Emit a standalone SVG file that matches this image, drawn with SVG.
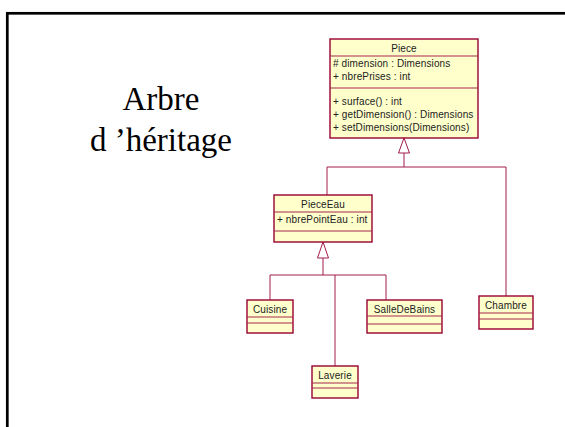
<svg xmlns="http://www.w3.org/2000/svg" width="565" height="427" viewBox="0 0 565 427">
  <style>
    .box { fill: #FFFFCC; stroke: #990033; stroke-width: 1.4; }
    .sep { stroke: #A8284F; stroke-width: 1.2; fill: none; }
    .cls { font-family: "Liberation Sans", Arial, sans-serif; font-size: 10px; fill: #222; letter-spacing: 0.12px; }
    .mid { text-anchor: middle; }
    .edge { stroke: #A01E4E; stroke-width: 1; fill: none; }
    .tri { fill: #FFFFFF; stroke: #A01E4E; stroke-width: 1; }
    .title { font-family: "Liberation Serif", "Times New Roman", serif; font-size: 33px; fill: #000; text-anchor: middle; }
  </style>

  <rect width="565" height="427" fill="#FFFFFF"/>
  <!-- slide frame -->
  <rect x="7.3" y="13.3" width="620" height="480" fill="none" stroke="#000" stroke-width="2.7"/>

  <!-- slide title -->
  <text class="title" x="161" y="110">Arbre</text>
  <text class="title" x="161" y="151">d ’héritage</text>

  <!-- generalization connectors -->
  <g id="connectors">
    <polyline class="edge" points="404,153 404,167"/>
    <polyline class="edge" points="327,195 327,167 506,167 506,296"/>
    <polygon class="tri" points="404,138 398.5,153 409.5,153"/>

    <polyline class="edge" points="323,258 323,275"/>
    <polyline class="edge" points="270,300 270,275 386,275 386,300"/>
    <polyline class="edge" points="335,275 335,366"/>
    <polygon class="tri" points="323,242 317.5,258 328.5,258"/>
  </g>

  <g id="Piece">
    <rect class="box" x="330" y="39" width="148" height="99"/>
    <line class="sep" x1="330" y1="56" x2="478" y2="56"/>
    <line class="sep" x1="330" y1="88" x2="478" y2="88"/>
    <text class="cls mid" x="404" y="51.5">Piece</text>
    <text class="cls" x="333" y="66.5"># dimension : Dimensions</text>
    <text class="cls" x="333" y="79.5">+ nbrePrises : int</text>
    <text class="cls" x="333" y="104.5">+ surface() : int</text>
    <text class="cls" x="333" y="117.5">+ getDimension() : Dimensions</text>
    <text class="cls" x="333" y="130.5">+ setDimensions(Dimensions)</text>
  </g>

  <g id="PieceEau">
    <rect class="box" x="274" y="195" width="98" height="47"/>
    <line class="sep" x1="274" y1="212" x2="372" y2="212"/>
    <line class="sep" x1="274" y1="231" x2="372" y2="231"/>
    <text class="cls mid" x="323" y="207.5">PieceEau</text>
    <text class="cls" x="277" y="222.5">+ nbrePointEau : int</text>
  </g>

  <g id="Cuisine">
    <rect class="box" x="247" y="300" width="46" height="33"/>
    <line class="sep" x1="247" y1="317" x2="293" y2="317"/>
    <line class="sep" x1="247" y1="323" x2="293" y2="323"/>
    <text class="cls mid" x="270" y="312.5">Cuisine</text>
  </g>

  <g id="SalleDeBains">
    <rect class="box" x="367" y="300" width="75" height="33"/>
    <line class="sep" x1="367" y1="316" x2="442" y2="316"/>
    <line class="sep" x1="367" y1="324" x2="442" y2="324"/>
    <text class="cls mid" x="404.5" y="312.5">SalleDeBains</text>
  </g>

  <g id="Laverie">
    <rect class="box" x="312" y="366" width="46" height="32"/>
    <line class="sep" x1="312" y1="383" x2="358" y2="383"/>
    <line class="sep" x1="312" y1="388" x2="358" y2="388"/>
    <text class="cls mid" x="335" y="378.5">Laverie</text>
  </g>

  <g id="Chambre">
    <rect class="box" x="479" y="296" width="54" height="33"/>
    <line class="sep" x1="479" y1="313" x2="533" y2="313"/>
    <line class="sep" x1="479" y1="319" x2="533" y2="319"/>
    <text class="cls mid" x="506" y="308.5">Chambre</text>
  </g>
</svg>
